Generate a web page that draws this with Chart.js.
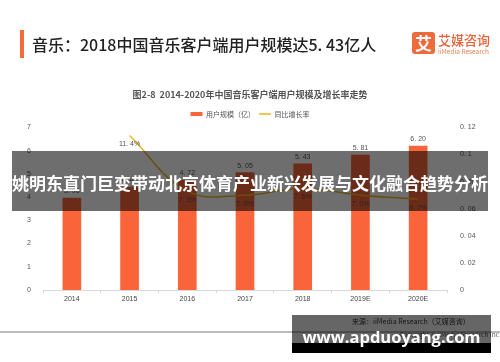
<!DOCTYPE html>
<html><head><meta charset="utf-8">
<script src="https://cdn.jsdelivr.net/npm/chart.js@4.4.1/dist/chart.umd.min.js"></script>
<style>
html,body{margin:0;padding:0;background:#fff;}
#wrap{position:relative;width:500px;height:362px;overflow:hidden;background:#fff;font-family:"Noto Sans CJK SC",sans-serif;}
#c{position:absolute;left:0;top:0;width:500px;height:362px;}
.abs{position:absolute;white-space:nowrap;}
</style></head><body>
<div id="wrap">
<canvas id="c" width="500" height="362"></canvas>
<div class="abs" style="left:20px;top:30px;width:4px;height:28px;background:#F26B3A;"></div>
<div class="abs" style="left:32px;top:33px;font-size:16px;line-height:22px;font-weight:500;color:#222;">音乐：2018中国音乐客户端用户规模达5. 43亿人</div>
<div class="abs" style="left:412px;top:32px;width:23px;height:22px;background:#EE6A3C;border-radius:3px;color:#fff;font-size:17px;font-weight:700;line-height:22px;text-align:center;">艾</div>
<div class="abs" style="left:438px;top:32px;font-size:13px;line-height:16px;color:#E8623A;font-weight:500;">艾媒咨询</div>
<div class="abs" style="left:438px;top:47px;font-size:6.5px;line-height:8px;color:#E8825A;">iiMedia Research</div>
<div class="abs" style="left:352px;top:316px;font-size:7px;line-height:10px;color:#333;">来源：iiMedia Research（艾媒咨询）</div>
<div class="abs" style="left:0;top:331px;width:500px;height:1.5px;background:#bbb;"></div>
<div class="abs" style="right:1px;top:330px;font-size:6.5px;line-height:8px;color:#555;">Copyright © iiMedia Research Inc</div>
<div class="abs" style="left:12px;top:151px;width:476px;height:60px;background:rgba(0,0,0,0.57);"></div>
<div class="abs" style="left:12px;top:172px;width:476px;text-align:center;font-size:17px;line-height:22px;font-weight:700;color:#fff;">姚明东直门巨变带动北京体育产业新兴发展与文化融合趋势分析</div>
<div class="abs" style="left:292px;top:315px;width:199px;height:28px;background:rgba(0,0,0,0.6);"></div>
<div class="abs" style="left:292px;top:343px;width:199px;height:10px;background:#000;"></div>
<div class="abs" style="left:292px;top:326px;width:199px;text-align:center;font-family:'Open Sans',sans-serif;font-size:16.5px;line-height:22px;font-weight:700;color:#fff;">www.apduoyang.com</div>
</div>
<script>
const categories = ['2014','2015','2016','2017','2018','2019E','2020E'];
const userScale = [3.96, 4.43, 4.72, 5.05, 5.43, 5.81, 6.20];
const growthRate = [null, 0.114, 0.073, 0.070, 0.075, 0.070, 0.067];
const leftTicks = ['0','1','2','3','4','5','6','7'];
const rightTicks = ['0','0. 02','0. 04','0. 06','0. 08','0. 1','0. 12'];
const seriesNames = ['用户规模（亿）','同比增长率'];
const chartTitle = '图2-8  2014-2020年中国音乐客户端用户规模及增长率走势';

const FONT = '"Liberation Sans","Noto Sans CJK SC",sans-serif';
const fmt = s => s.replace('.', '. ');

const valueLabels = {
  id: 'valueLabels',
  afterDatasetsDraw(chart) {
    const ctx = chart.ctx;
    ctx.save();
    ctx.font = '7px ' + FONT;
    ctx.fillStyle = '#555';
    ctx.textAlign = 'center';
    ctx.textBaseline = 'middle';
    chart.getDatasetMeta(0).data.forEach((el, i) => {
      ctx.fillText(fmt(userScale[i].toFixed(2)), el.x, el.y - 7);
    });
    chart.getDatasetMeta(1).data.forEach((el, i) => {
      if (growthRate[i] == null) return;
      ctx.fillText(fmt((growthRate[i] * 100).toFixed(1)) + '%', el.x, el.y + 9);
    });
    ctx.restore();
  }
};

new Chart(document.getElementById('c'), {
  data: {
    labels: categories,
    datasets: [
      { type: 'bar', label: seriesNames[0], data: userScale, backgroundColor: '#F9643A', barThickness: 18, yAxisID: 'y', order: 2, pointStyle: 'rect', borderWidth: 0 },
      { type: 'line', label: seriesNames[1], data: growthRate, borderColor: '#EEB51C', backgroundColor: '#EEB51C', borderWidth: 1.5, pointRadius: 0, tension: 0.4, yAxisID: 'y1', order: 1, pointStyle: 'line' }
    ]
  },
  options: {
    responsive: false,
    animation: false,
    layout: { padding: { top: 89.6, left: 0, right: 0, bottom: 0 } },
    plugins: {
      title: { display: true, text: chartTitle, color: '#555', font: { size: 9, weight: 'bold', family: '"Noto Sans CJK SC",sans-serif' }, padding: { top: 0, bottom: 6 } },
      legend: {
        display: true, position: 'top',
        labels: { usePointStyle: true, pointStyleWidth: 12, boxHeight: 4, padding: 4, color: '#555', font: { size: 7, family: '"Noto Sans CJK SC",sans-serif' },
          sort: (a, b) => a.datasetIndex - b.datasetIndex }
      },
      tooltip: { enabled: false }
    },
    scales: {
      x: {
        offset: true,
        grid: { display: true, drawOnChartArea: false, drawTicks: true, tickLength: 3, color: '#d9d9d9' },
        border: { display: true, color: '#d9d9d9' },
        ticks: { font: { size: 7, family: FONT }, color: '#444', padding: 2, maxRotation: 0 },
        afterFit: s => { s.height = 72; }
      },
      y: {
        position: 'left', min: 0, max: 7,
        grid: { display: false }, border: { display: false },
        ticks: { stepSize: 1, padding: 4, font: { size: 7, family: FONT }, color: '#555', callback: (v, i) => leftTicks[i] },
        afterFit: s => { s.width = 43; }
      },
      y1: {
        position: 'right', min: 0, max: 0.12,
        grid: { display: false }, border: { display: false },
        ticks: { stepSize: 0.02, padding: 5, font: { size: 7, family: FONT }, color: '#555', callback: (v, i) => rightTicks[i] },
        afterFit: s => { s.width = 53; }
      }
    }
  },
  plugins: [valueLabels]
});
</script>
</body></html>
